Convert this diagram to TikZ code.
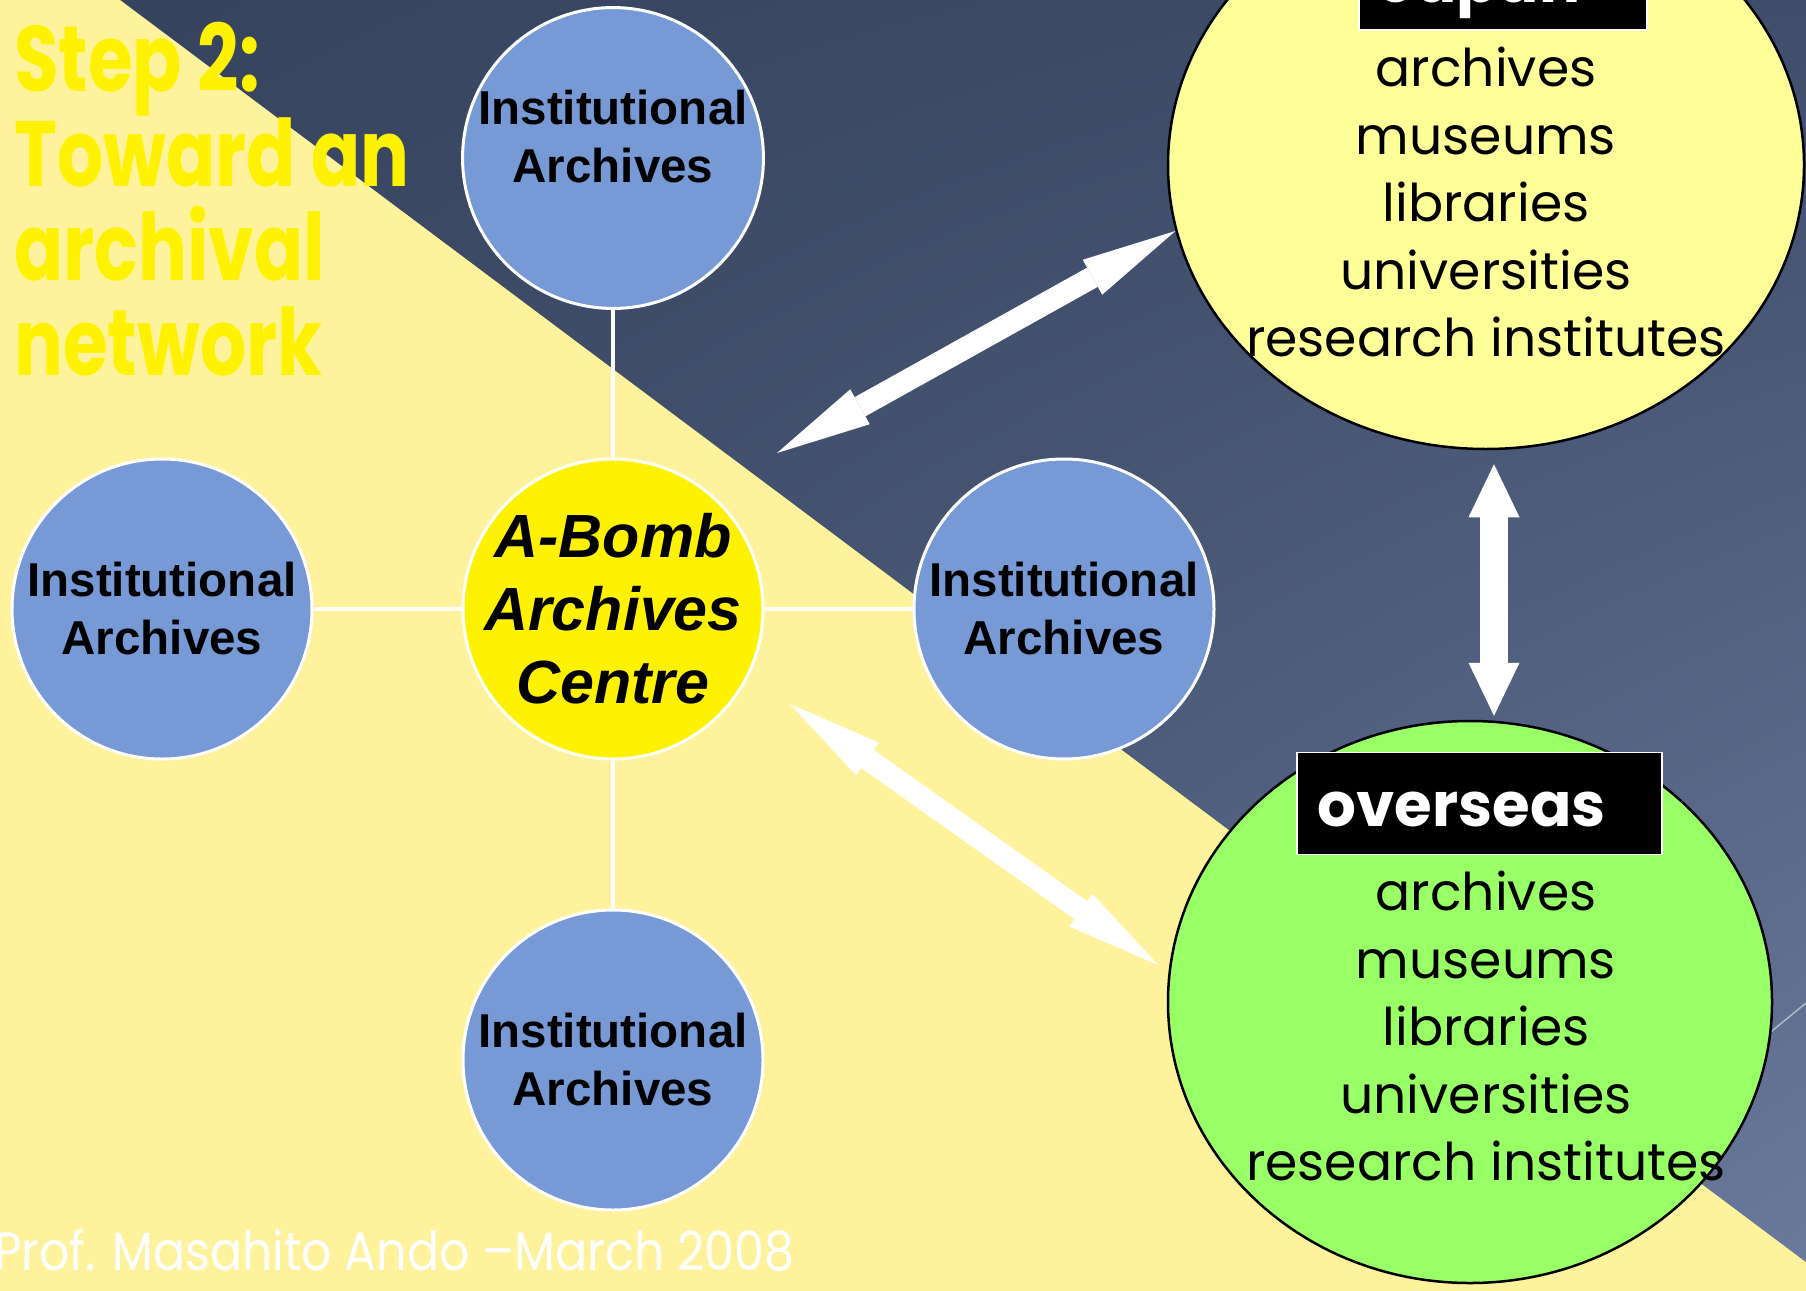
\documentclass[tikz,border=0pt]{standalone}
\usepackage{fontspec}
\setmainfont{Liberation Sans}
\newfontfamily\gothic{Poppins}
\newfontfamily\gothicnarrow[FakeStretch=0.78]{Poppins}
\newfontfamily\gothicslim[FakeStretch=0.88]{Poppins}
\usetikzlibrary{positioning, shapes.geometric, arrows.meta, shadings}

\definecolor{bgdark}{HTML}{35435D}
\definecolor{bgmid}{HTML}{3F4D6A}
\definecolor{bglight}{HTML}{6B7B9D}
\definecolor{bgyellow}{HTML}{FFF29D}
\definecolor{instblue}{HTML}{7799D6}
\definecolor{japanyellow}{HTML}{FFFF99}
\definecolor{overseasgreen}{HTML}{99FF66}

\begin{document}
\begin{tikzpicture}[x=1pt, y=-1pt, node distance=451pt, on grid,
	inst/.style={circle, draw=white, line width=3pt, fill=instblue, minimum size=300pt, inner sep=0pt, align=center, font=\bfseries\fontsize{47.5}{58}\selectfont},
	centre/.style={inst, fill=yellow, font=\bfseries\itshape\fontsize{61}{73}\selectfont},
	groupoval/.style={ellipse, draw=black, line width=2.5pt, inner sep=0pt},
	listtext/.style={align=center, inner sep=0pt, font=\gothic\fontsize{52}{67.5}\selectfont},
	tagbox/.style={fill=black, draw=white, line width=1.5pt, anchor=south west, minimum height=102pt, inner xsep=21pt, inner ysep=0pt, text height=50pt, text depth=4pt, align=left, text=white, font=\gothic\bfseries\fontsize{61}{61}\selectfont},
	link/.style={draw=white, line width=4pt},
	bigarrow/.style={draw=white, line width=22pt, {Triangle[length=95pt, width=40pt, line width=0pt]}-{Triangle[length=95pt, width=40pt, line width=0pt]}},
	uparrow/.style={draw=white, line width=28pt, {Triangle[length=53pt, width=51pt, line width=0pt]}-{Triangle[length=53pt, width=51pt, line width=0pt]}}]

	% background
	\useasboundingbox (0,0) rectangle (1806,1290);
	\clip (0,0) rectangle (1806,1290);
	\shade[upper left=bgdark, upper right=bgmid, lower left=bgmid, lower right=bglight] (-5,-5) rectangle (1811,1295);
	\fill[bgyellow] (120,0) -- (1811,1266) -- (1811,1300) -- (-10,1300) -- (-10,-10) -- (113,-5) -- cycle;
	\draw[white, opacity=0.5, line width=1.5pt] (1700,1090) -- (1806,1003);

	\node[anchor=north west, inner sep=0pt, align=left, text=yellow, font=\gothicnarrow\bfseries\fontsize{93}{94.7}\selectfont] (title) at (14,22) {Step 2:\\Toward an\\archival\\network};

	% the centre and its archives
	\node[centre] (abomb) at (613,609) {\makebox[0pt]{A-Bomb}\\\makebox[0pt]{Archives}\\\makebox[0pt]{Centre}};
	\node[inst, above=of abomb, text depth=44pt] (instN) {Institutional\\Archives};
	\node[inst, left=of abomb] (instW) {Institutional\\Archives};
	\node[inst, right=of abomb] (instE) {Institutional\\Archives};
	\node[inst, below=of abomb] (instS) {Institutional\\Archives};
	\draw[link] (abomb) -- (instN);
	\draw[link] (abomb) -- (instW);
	\draw[link] (abomb) -- (instE);
	\draw[link] (abomb) -- (instS);

	% japan and overseas
	\node[groupoval, fill=japanyellow, minimum width=636pt, minimum height=568pt] (japan) at (1486,165) {};
	\node[tagbox, text width=246pt] (japantag) at (1358,31) {Japan};
	\node[listtext] (japanlist) at (1486,202) {archives\\museums\\libraries\\universities\\research institutes};

	\node[groupoval, fill=overseasgreen, minimum width=604pt, minimum height=562pt] (overseas) at (1470,1002) {};
	\node[tagbox, text width=323pt] (overseastag) at (1296,855) {overseas};
	\node[listtext] (overseaslist) at (1486,1026) {archives\\museums\\libraries\\universities\\research institutes};

	\coordinate (jpfoot) at (777,453);
	\coordinate (osfoot) at (790,704);
	\draw[bigarrow] (jpfoot) -- (japan.192);
	\draw[bigarrow] (osfoot) -- ([xshift=-11pt]overseas.173);
	\draw[uparrow] ([xshift=8pt, yshift=-14pt]japan.south) -- ([xshift=24pt, yshift=4pt]overseas.north);

	\node[anchor=base west, inner sep=0pt, text=white, font=\gothicslim\fontsize{54}{54}\selectfont] (credit) at (-6,1270) {Prof. Masahito Ando –March 2008};
\end{tikzpicture}
\end{document}
